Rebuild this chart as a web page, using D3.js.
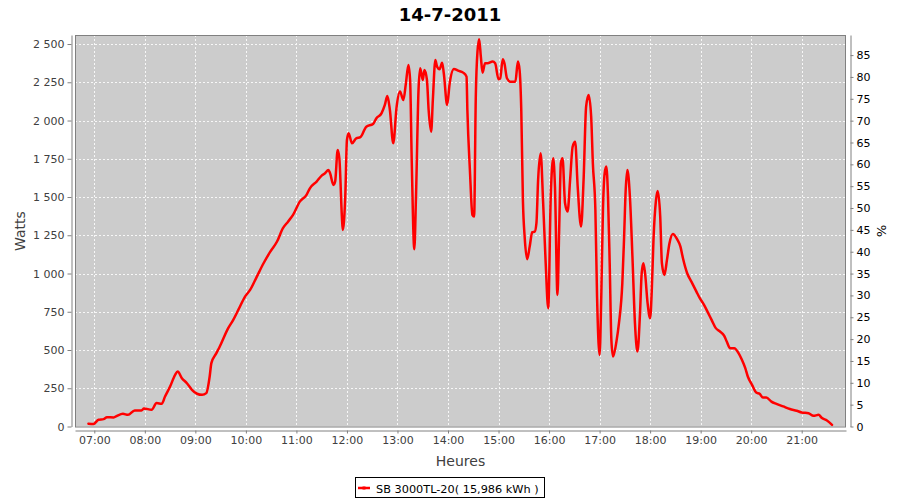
<!DOCTYPE html>
<html><head><meta charset="utf-8">
<script src="https://cdn.jsdelivr.net/npm/d3@7/dist/d3.min.js"></script>
<style>
html,body{margin:0;padding:0;background:#fff;}
svg{display:block;}
text{font-family:"DejaVu Sans",sans-serif;}
</style></head>
<body>
<svg id="chart" width="900" height="500"></svg>
<script>
const title = "14-7-2011";
const seriesName = "SB 3000TL-20( 15,986 kWh )";
const yLabel = "Watts";
const y2Label = "%";
const xLabel = "Heures";
const xDomain = ["06:37:05", "21:52:36"];
const yDomain = [0, 2559];
const y2Domain = [0, 89.6];
const yTicks = [0,250,500,750,1000,1250,1500,1750,2000,2250,2500];
const y2Ticks = [0,5,10,15,20,25,30,35,40,45,50,55,60,65,70,75,80,85];
const times = ["06:53","06:59","07:05","07:11","07:15","07:23","07:27","07:34","07:40","07:48","07:56","07:59","08:08","08:14","08:20","08:24","08:30","08:36","08:39","08:44","08:50","08:56","09:02","09:08","09:13","09:17","09:19","09:25","09:29","09:39","09:45","09:51","09:59","10:05","10:13","10:21","10:29","10:37","10:44","10:50","10:56","11:04","11:12","11:16","11:24","11:30","11:34","11:38","11:40","11:44","11:46","11:49","11:51","11:54","11:55","11:58","12:00","12:02","12:06","12:11","12:16","12:23","12:31","12:35","12:41","12:45","12:48","12:51","12:55","12:59","13:03","13:07","13:10","13:13","13:15","13:17","13:20","13:22","13:25","13:27","13:30","13:32","13:35","13:37","13:40","13:42","13:45","13:47","13:50","13:53","13:55","13:59","14:02","14:07","14:12","14:18","14:22","14:23","14:26","14:29","14:31","14:33","14:35","14:37","14:39","14:41","14:44","14:47","14:53","14:56","15:00","15:02","15:05","15:07","15:10","15:14","15:20","15:23","15:25","15:27","15:29","15:31","15:34","15:37","15:40","15:43","15:45","15:47","15:50","15:53","15:56","15:59","16:02","16:05","16:07","16:10","16:12","16:14","16:16","16:19","16:22","16:25","16:28","16:31","16:34","16:38","16:41","16:44","16:47","16:50","16:52","16:55","16:57","17:00","17:02","17:04","17:06","17:08","17:10","17:12","17:14","17:16","17:20","17:23","17:27","17:29","17:31","17:33","17:36","17:39","17:42","17:45","17:48","17:50","17:52","17:54","17:57","18:00","18:02","18:04","18:07","18:09","18:12","18:14","18:17","18:20","18:23","18:27","18:32","18:36","18:39","18:44","18:49","18:55","18:59","19:04","19:09","19:13","19:18","19:23","19:28","19:31","19:35","19:40","19:45","19:49","19:53","19:56","20:01","20:06","20:10","20:14","20:18","20:24","20:30","20:38","20:46","20:54","21:00","21:08","21:14","21:20","21:24","21:30","21:36"];
const watts = [18,16,44,48,61,59,70,83,76,105,105,118,109,153,148,196,261,338,359,316,283,240,214,207,218,327,414,480,523,643,697,762,849,893,980,1067,1143,1209,1296,1339,1383,1470,1514,1557,1601,1640,1655,1677,1655,1579,1601,1808,1753,1372,1285,1503,1873,1917,1851,1884,1891,1960,1977,2015,2047,2102,2160,2069,1851,2091,2189,2134,2243,2363,2265,1721,1159,1503,2200,2342,2265,2330,2265,2069,1927,2134,2396,2352,2335,2378,2309,2102,2243,2337,2326,2313,2287,2069,1677,1383,1372,2156,2450,2531,2417,2313,2374,2374,2385,2374,2270,2276,2400,2374,2276,2254,2254,2385,2330,2069,1470,1241,1094,1176,1270,1274,1329,1612,1786,1459,1067,773,1503,1753,1568,860,1285,1721,1753,1459,1405,1612,1829,1862,1568,1307,1612,2091,2167,2025,1721,1416,849,468,849,1416,1655,1699,1503,1067,566,457,555,675,937,1220,1546,1677,1503,1111,675,490,741,1002,1067,1002,806,708,893,1220,1481,1540,1372,1067,991,1089,1198,1259,1225,1176,1100,1002,947,882,839,795,741,697,643,621,593,555,512,512,480,436,382,327,272,222,214,189,189,163,148,131,114,103,92,87,70,76,55,39,11];

const parse = d3.timeParse("%Y-%m-%d %H:%M:%S");
const parseT = s => parse("2011-07-14 " + (s.length === 5 ? s + ":00" : s));
const data = times.map((t, i) => ({t: parseT(t), v: watts[i]}));

const svg = d3.select("#chart");
const L = 75, R = 846, T = 35, B = 426.5;
const x = d3.scaleTime().domain(xDomain.map(parseT)).range([L, R]);
const y = d3.scaleLinear().domain(yDomain).range([B, T]);
const y2 = d3.scaleLinear().domain(y2Domain).range([B, T]);
const loc = d3.formatLocale({decimal: ",", thousands: " ", grouping: [3], currency: ["", ""]});
const fmt = loc.format(",d");

// plot background
svg.append("rect").attr("x", L).attr("y", T).attr("width", R - L).attr("height", B - T)
  .attr("fill", "#cccccc");

// grid
const hours = x.ticks(d3.timeHour.every(1));
const g = svg.append("g").attr("stroke", "#ffffff").attr("stroke-width", 1)
  .attr("stroke-dasharray", "2,2").attr("opacity", 0.85);
g.selectAll(".vx").data(hours).join("line")
  .attr("x1", d => Math.round(x(d)) + 0.5).attr("x2", d => Math.round(x(d)) + 0.5)
  .attr("y1", T).attr("y2", B);
g.selectAll(".hy").data(yTicks).join("line")
  .attr("y1", d => Math.round(y(d)) + 0.5).attr("y2", d => Math.round(y(d)) + 0.5)
  .attr("x1", L).attr("x2", R);

// plot outline
svg.append("rect").attr("x", L + 0.5).attr("y", T + 0.5).attr("width", R - L - 1).attr("height", B - T)
  .attr("fill", "none").attr("stroke", "#808080").attr("stroke-width", 1);

// line
const clipId = "clip";
svg.append("clipPath").attr("id", clipId).append("rect")
  .attr("x", L).attr("y", T).attr("width", R - L).attr("height", B - T + 2);
svg.append("path").datum(data)
  .attr("clip-path", "url(#clip)")
  .attr("fill", "none").attr("stroke", "#ff0000").attr("stroke-width", 2.5)
  .attr("stroke-linejoin", "round").attr("stroke-linecap", "round")
  .attr("d", d3.line().x(d => x(d.t)).y(d => y(d.v)).curve(d3.curveMonotoneX));

function styleAxis(sel) {
  sel.select(".domain").attr("stroke", "#808080");
  sel.selectAll(".tick line").attr("stroke", "#808080");
  sel.selectAll(".tick text").attr("fill", "#404040")
    .style("font-family", "'DejaVu Sans',sans-serif").style("font-size", "11px");
}

// left axis
svg.append("g").attr("transform", "translate(71.5,0)")
  .call(d3.axisLeft(y).tickValues(yTicks).tickFormat(fmt).tickSize(4).tickSizeOuter(0).tickPadding(3))
  .call(styleAxis);
// right axis
svg.append("g").attr("transform", "translate(850.5,0)")
  .call(d3.axisRight(y2).tickValues(y2Ticks).tickFormat(d3.format("d")).tickSize(3).tickSizeOuter(0).tickPadding(3))
  .call(styleAxis)
  .call(s => s.selectAll(".tick text").attr("fill", "#000"));
// bottom axis
svg.append("g").attr("transform", "translate(0,430.5)")
  .call(d3.axisBottom(x).tickValues(hours).tickFormat(d3.timeFormat("%H:%M")).tickSize(3).tickSizeOuter(0).tickPadding(3))
  .call(styleAxis);

// title
svg.append("text").attr("x", 450).attr("y", 21).attr("text-anchor", "middle")
  .attr("font-size", 18).attr("font-weight", "bold").attr("fill", "#000").text(title);
// axis labels
svg.append("text").attr("transform", "translate(25,231) rotate(-90)").attr("text-anchor", "middle")
  .attr("font-size", 14).attr("fill", "#404040").text(yLabel);
svg.append("text").attr("transform", "translate(877,231) rotate(90)").attr("text-anchor", "middle")
  .attr("font-size", 13).attr("fill", "#000").text(y2Label);
svg.append("text").attr("x", (L + R) / 2).attr("y", 466).attr("text-anchor", "middle")
  .attr("font-size", 14).attr("fill", "#404040").text(xLabel);

// legend
const lg = svg.append("g");
lg.append("rect").attr("x", 355.5).attr("y", 477.5).attr("width", 189).attr("height", 20)
  .attr("fill", "#fff").attr("stroke", "#000").attr("stroke-width", 1);
lg.append("line").attr("x1", 358).attr("x2", 370).attr("y1", 488).attr("y2", 488)
  .attr("stroke", "#ff0000").attr("stroke-width", 2.5);
lg.append("rect").attr("x", 362.5).attr("y", 486.5).attr("width", 3).attr("height", 3).attr("fill", "#ff0000");
lg.append("text").attr("x", 376).attr("y", 492.5).attr("font-size", 11.3).attr("fill", "#000").text(seriesName);
</script>
</body></html>
